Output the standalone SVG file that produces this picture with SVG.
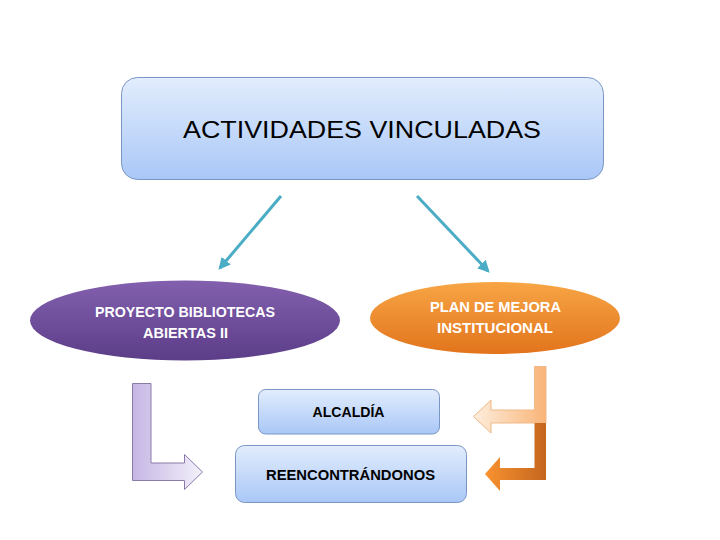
<svg xmlns="http://www.w3.org/2000/svg" width="720" height="540" viewBox="0 0 720 540">
<defs>
<linearGradient id="gBlue" x1="0" y1="0" x2="0" y2="1"><stop offset="0" stop-color="#e2edfd"/><stop offset="1" stop-color="#a9c7f7"/></linearGradient>
<linearGradient id="gPurple" x1="0" y1="0" x2="0" y2="1"><stop offset="0" stop-color="#8260ae"/><stop offset="1" stop-color="#5c3d88"/></linearGradient>
<linearGradient id="gOrange" x1="0" y1="0" x2="0" y2="1"><stop offset="0" stop-color="#f7a545"/><stop offset="1" stop-color="#e2741c"/></linearGradient>
<linearGradient id="gLilac" x1="0" y1="0" x2="1" y2="0"><stop offset="0" stop-color="#c6b6e4"/><stop offset="1" stop-color="#f3f0fa"/></linearGradient>
<linearGradient id="gPeach" x1="0" y1="0" x2="1" y2="0"><stop offset="0" stop-color="#fdeede"/><stop offset="1" stop-color="#f9b477"/></linearGradient>
<linearGradient id="gDark" x1="0" y1="0" x2="1" y2="0"><stop offset="0" stop-color="#f99230"/><stop offset="1" stop-color="#c4661e"/></linearGradient>
<marker id="ah" viewBox="0 0 10 10" refX="8" refY="5" markerWidth="4" markerHeight="4" orient="auto"><path d="M0,0 L10,5 L0,10 Z" fill="#4bacc6"/></marker>
<style>
.box{fill:url(#gBlue);stroke:#7a97c4;stroke-width:1}
.t{font-family:"Liberation Sans",Arial,sans-serif;text-anchor:middle}
.w{fill:#ffffff;font-weight:bold;font-size:14.5px}
.k{fill:#000000;font-weight:bold;font-size:14px}
.con{stroke:#4bacc6;stroke-width:3;fill:none;marker-end:url(#ah)}
</style>
</defs>
<rect width="720" height="540" fill="#ffffff"/>
<g id="actividades">
<rect class="box" x="121.5" y="77.5" width="482" height="102" rx="16"/>
<text class="t" x="362" y="138" font-size="23" textLength="358" lengthAdjust="spacingAndGlyphs">ACTIVIDADES VINCULADAS</text>
</g>
<g id="connectors">
<line class="con" x1="281" y1="196" x2="220" y2="268"/>
<line class="con" x1="417" y1="196" x2="488" y2="271"/>
</g>
<g id="proyecto">
<ellipse cx="185" cy="320.5" rx="155" ry="40" fill="url(#gPurple)"/>
<text class="t w" x="185" y="317" textLength="180" lengthAdjust="spacingAndGlyphs">PROYECTO BIBLIOTECAS</text>
<text class="t w" x="185.5" y="338" textLength="85" lengthAdjust="spacingAndGlyphs">ABIERTAS II</text>
</g>
<g id="plan">
<ellipse cx="495" cy="318" rx="125" ry="36" fill="url(#gOrange)"/>
<text class="t w" x="495.5" y="312" textLength="131" lengthAdjust="spacingAndGlyphs">PLAN DE MEJORA</text>
<text class="t w" x="495" y="333" textLength="116" lengthAdjust="spacingAndGlyphs">INSTITUCIONAL</text>
</g>
<g id="alcaldia">
<rect class="box" x="258.5" y="389.5" width="181" height="44.5" rx="7"/>
<text class="t k" x="348.5" y="417" textLength="72" lengthAdjust="spacingAndGlyphs">ALCALDÍA</text>
</g>
<g id="reencontrandonos">
<rect class="box" x="235.5" y="445.5" width="231" height="57" rx="9"/>
<text class="t k" x="350.5" y="480" textLength="169" lengthAdjust="spacingAndGlyphs">REENCONTRÁNDONOS</text>
</g>
<g id="bent-arrows">
<path d="M132.5,383.5 L151,383.5 L151,463 L184.5,463 L184.5,454.5 L202.5,472 L184.5,489.5 L184.5,480.5 L132.5,480.5 Z" fill="url(#gLilac)" stroke="#8a7aa8" stroke-width="1"/>
<path d="M546,366.5 L546,423 L491,423 L491,433 L473.5,416.5 L491,400 L491,410 L534.5,410 L534.5,366.5 Z" fill="url(#gPeach)" stroke="#f0b886" stroke-width="1"/>
<path d="M534.5,423 L546,423 L546,480 L500,480 L500,491 L485,474 L500,457 L500,468 L534.5,468 Z" fill="url(#gDark)"/>
</g>
</svg>
